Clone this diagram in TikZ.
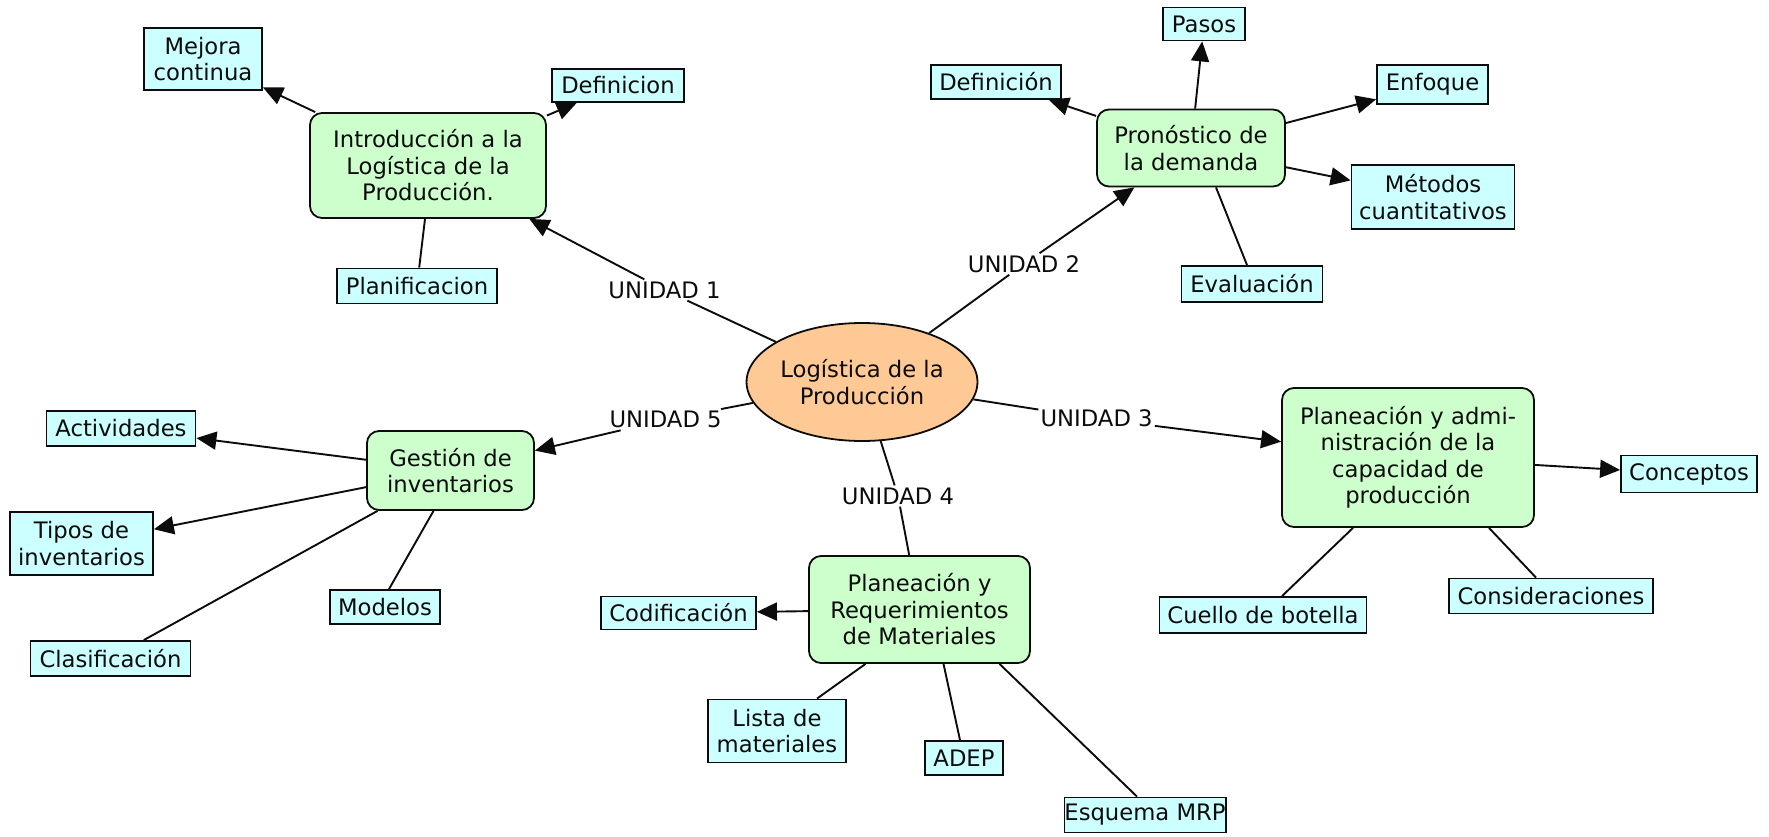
\documentclass[tikz,border=0pt]{standalone}
\usepackage{fontspec}
\setmainfont{DejaVu Sans}
\usetikzlibrary{arrows.meta,shapes.geometric}
\definecolor{cfill}{RGB}{204,255,255}
\definecolor{gfill}{RGB}{204,255,204}
\definecolor{ofill}{RGB}{255,201,150}
\definecolor{ink}{RGB}{12,12,12}
\begin{document}
\begin{tikzpicture}[x=1pt,y=-1pt,
  font=\fontsize{22.7}{26.5}\selectfont, text=ink,
  leaf/.style={draw=ink, line width=1.8pt, fill=cfill, align=center, inner sep=0pt},
  topic/.style={draw=ink, line width=1.8pt, fill=gfill, rounded corners=12pt, align=center, inner sep=0pt},
  root/.style={ellipse, draw=ink, line width=1.8pt, fill=ofill, align=center, inner sep=0pt},
  lbl/.style={fill=white, inner sep=2pt},
  link/.style={line width=1.9pt, draw=ink},
  arr/.style={link, -{Triangle[length=20pt,width=18pt]}}]
\fill[white] (0,0) rectangle (1769,837);
\useasboundingbox (0,0) rectangle (1769,837);

% root
\node[root, minimum width=226, minimum height=118] (ctr) at (862,382) {Logística de la\\Producción};

% topics
\node[topic, minimum width=236, minimum height=105] (intro) at (428,165.5) {Introducción a la\\Logística de la\\Producción.};
\node[topic, minimum width=188, minimum height=77] (pron) at (1191,148) {Pronóstico de\\la demanda};
\node[topic, minimum width=252, minimum height=139] (cap) at (1408,457.5) {Planeación y admi-\\nistración de la\\capacidad de\\producción};
\node[topic, minimum width=221, minimum height=107] (mat) at (919.5,609.5) {Planeación y\\Requerimientos\\de Materiales};
\node[topic, minimum width=167, minimum height=79] (ges) at (450.5,470.5) {Gestión de\\inventarios};

% leaves
\node[leaf, minimum width=118, minimum height=62] (mej) at (203,59) {Mejora\\continua};
\node[leaf, minimum width=132, minimum height=33] (def1) at (618,85.5) {Definicion};
\node[leaf, minimum width=160, minimum height=35] (plan) at (417,286) {Planificacion};
\node[leaf, minimum width=82, minimum height=33] (pasos) at (1204,24) {Pasos};
\node[leaf, minimum width=130, minimum height=34] (def2) at (996,82) {Definición};
\node[leaf, minimum width=111, minimum height=39] (enf) at (1432.5,84.5) {Enfoque};
\node[leaf, minimum width=163, minimum height=64] (met) at (1433,197) {Métodos\\cuantitativos};
\node[leaf, minimum width=141, minimum height=36] (eval) at (1252,284) {Evaluación};
\node[leaf, minimum width=136, minimum height=37] (conc) at (1689,474) {Conceptos};
\node[leaf, minimum width=207, minimum height=36] (cue) at (1263,615) {Cuello de botella};
\node[leaf, minimum width=204, minimum height=35] (cons) at (1551,596) {Consideraciones};
\node[leaf, minimum width=155, minimum height=33] (cod) at (678.5,613) {Codificación};
\node[leaf, minimum width=138, minimum height=63] (lista) at (777,731) {Lista de\\materiales};
\node[leaf, minimum width=78, minimum height=34] (adep) at (964,758) {ADEP};
\node[leaf, minimum width=156, minimum height=35] (esq) at (1145,815) {Esquema MRP};
\node[leaf, minimum width=149, minimum height=35] (act) at (121,428.5) {Actividades};
\node[leaf, minimum width=143, minimum height=63] (tipos) at (81.5,543.5) {Tipos de\\inventarios};
\node[leaf, minimum width=110, minimum height=34] (mod) at (385,607) {Modelos};
\node[leaf, minimum width=160, minimum height=35] (clas) at (110.5,658.5) {Clasificación};

% link labels
\node[lbl] (u1) at (664.5,290) {UNIDAD 1};
\node[lbl] (u2) at (1024,264) {UNIDAD 2};
\node[lbl] (u3) at (1096.6,418.6) {UNIDAD 3};
\node[lbl] (u4) at (898,496) {UNIDAD 4};
\node[lbl] (u5) at (665.6,419.7) {UNIDAD 5};

% root links
\draw[link] (ctr) -- (u1); \draw[arr] (u1) -- (intro);
\draw[link] (ctr) -- (u2); \draw[arr] (u2) -- (pron);
\draw[link] (ctr) -- (u3); \draw[arr] (u3) -- (cap);
\draw[link] (ctr) -- (u4); \draw[link] (u4) -- (mat);
\draw[link] (ctr) -- (u5); \draw[arr] (u5) -- (ges);

% intro
\draw[arr] (intro) -- (mej);
\draw[arr] (intro) -- (def1);
\draw[link] ([xshift=-3]intro.south) -- (plan);
% pron
\draw[arr] (pron) -- (pasos);
\draw[arr] (pron) -- (def2);
\draw[arr] (pron) -- (enf);
\draw[arr] (pron) -- (met);
\draw[link] ([xshift=25]pron.south) -- ([xshift=-5]eval.north);
% cap
\draw[arr] (cap) -- (conc);
\draw[link] ([xshift=-55]cap.south) -- ([xshift=19]cue.north);
\draw[link] ([xshift=81]cap.south) -- ([xshift=-15]cons.north);
% mat
\draw[arr] (mat) -- (cod);
\draw[link] ([xshift=-54]mat.south) -- ([xshift=40]lista.north);
\draw[link] ([xshift=24]mat.south) -- ([xshift=-4]adep.north);
\draw[link] ([xshift=80]mat.south) -- ([xshift=-8]esq.north);
% ges
\draw[arr] (ges) -- (act);
\draw[arr] (ges) -- (tipos);
\draw[link] ([xshift=-17]ges.south) -- ([xshift=4]mod.north);
\draw[link] (ges) -- (clas);
\end{tikzpicture}
\end{document}
